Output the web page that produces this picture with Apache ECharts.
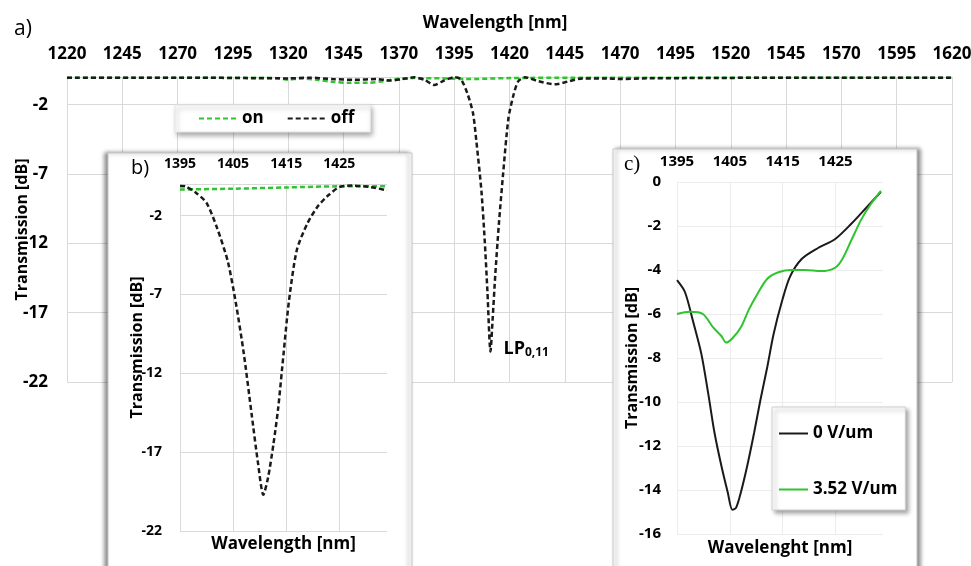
<!DOCTYPE html>
<html>
<head>
<meta charset="utf-8">
<script src="https://cdn.jsdelivr.net/npm/echarts@6/dist/echarts.min.js"></script>
<style>
html,body{margin:0;padding:0;background:#fff;}
#chart{width:971px;height:566px;}
</style>
</head>
<body>
<div id="chart"></div>
<script>
// ---- Panel a) full spectrum ----
var wlA_on = [1220,1280,1310,1316,1320,1325,1333,1340,1348,1356,1363,1369,1375,1390,1400,1420,1450,1500,1620];
var tA_on  = [-0.05,-0.05,-0.06,-0.1,-0.2,-0.1,-0.2,-0.35,-0.42,-0.42,-0.3,-0.15,-0.08,-0.1,-0.15,-0.08,-0.05,-0.05,-0.05];
var wlA_off = [1220,1250,1280,1300,1320,1330,1340,1350,1360,1366,1371,1377,1381.5,1386,1390.5,1395,1398,1401,1403.5,1405,1407.3,1408.8,1410,1411.4,1412.4,1413.6,1415.2,1417.1,1419.5,1421.8,1424,1427,1433,1440.5,1447,1453,1462,1471,1480,1500,1550,1620];
var tA_off  = [-0.05,-0.05,-0.05,-0.08,-0.1,-0.05,-0.15,-0.2,-0.15,-0.25,-0.17,-0.02,-0.2,-0.58,-0.25,-0.02,-0.15,-1.2,-2.6,-4.6,-8.2,-11.8,-15.4,-19.8,-17.4,-14.2,-10.6,-7.0,-3.0,-1.3,-0.3,-0.02,-0.3,-0.53,-0.3,-0.1,-0.1,-0.15,-0.1,-0.08,-0.05,-0.05];
var lpPoint = [1411.4, -19.8];

// ---- Panel b) zoom on the resonance ----
var wlB_on = [1395,1405,1415,1425,1434];
var tB_on  = [-0.35,-0.3,-0.22,-0.15,-0.15];
var wlB_off = [1395,1396,1398,1400,1402,1404,1405.5,1407,1408.5,1409.7,1410.7,1411.6,1412.6,1413.5,1414.5,1415.5,1417,1419,1421,1423,1425,1427.5,1431,1434];
var tB_off  = [-0.12,-0.15,-0.55,-1.2,-2.8,-4.9,-7.5,-10.7,-14.6,-17.7,-19.7,-18.6,-16.5,-14.2,-10.8,-7.5,-4.2,-2.5,-1.4,-0.7,-0.2,-0.1,-0.2,-0.4];

// ---- Panel c) measured ----
var wlC_0 = [1395,1396.5,1398,1399.6,1400.9,1402.1,1403.4,1404.6,1405.5,1406.2,1407.1,1408.3,1409.6,1410.8,1412.1,1413.3,1414.9,1416.4,1418.6,1421.7,1424.9,1428,1431.1,1433.6];
var tC_0  = [-4.46,-5.0,-6.3,-7.8,-9.6,-11.4,-12.9,-14.1,-14.9,-14.8,-14.1,-12.9,-11.4,-9.9,-8.4,-6.9,-5.4,-4.3,-3.5,-3.0,-2.6,-1.9,-1.1,-0.45];
var wlC_352 = [1395,1397.4,1399.9,1401.8,1403.4,1404.3,1405.5,1407.1,1408.6,1410.2,1412.1,1414.2,1416.7,1419.2,1422.3,1424.9,1426.2,1428,1429.9,1431.7,1433.6];
var tC_352  = [-6.0,-5.9,-6.0,-6.6,-7.0,-7.3,-7.1,-6.6,-5.8,-5.1,-4.4,-4.1,-4.0,-4.0,-4.05,-3.9,-3.55,-2.65,-1.7,-1.0,-0.4];

var namesA = ['on','off'];
var namesC = ['0 V/um','3.52 V/um'];

function zip(x, y){ return x.map(function(v,i){ return [v, y[i]]; }); }
function plain(v){ return String(v); }

var FONT = 'Open Sans';
var GREEN = '#2ec42e';
var BLACK = '#1a1a1a';
var GRID = '#d9d9d9';

var chart = echarts.init(document.getElementById('chart'), null, {renderer:'canvas'});

function lbl(size){ return {fontFamily:FONT, fontWeight:'bold', fontSize:size, color:'#000'}; }

var option = {
  animation:false,
  backgroundColor:'#fff',
  grid:[
    {left:67, top:77, width:885, height:305, containLabel:false, outerBoundsMode:'none'},
    {left:180, top:184, width:207, height:347, containLabel:false, outerBoundsMode:'none'},
    {left:677, top:182, width:206, height:352, containLabel:false, outerBoundsMode:'none'}
  ],
  graphic:[
    {type:'rect', z:5, shape:{x:108,y:153,width:304,height:430},
     style:{fill:'#fff', stroke:'#c8c8c8', lineWidth:1, shadowBlur:4, shadowOffsetX:-3, shadowOffsetY:0, shadowColor:'rgba(0,0,0,0.45)'}},
    {type:'rect', z:5, shape:{x:613,y:149,width:304,height:430},
     style:{fill:'#fff', stroke:'#c8c8c8', lineWidth:1, shadowBlur:4, shadowOffsetX:3, shadowOffsetY:0, shadowColor:'rgba(0,0,0,0.45)'}},
    {type:'text', z:9, x:14, y:19, style:{text:'a)', font:'21px "Open Sans"', fill:'#000'}},
    {type:'text', z:9, x:131, y:158, style:{text:'b)', font:'20px "Open Sans"', fill:'#000'}},
    {type:'text', z:9, x:624, y:154, style:{text:'c)', font:'21px "Liberation Serif"', fill:'#000'}}
  ],
  legend:[
    {data:namesA, left:175, top:105, orient:'horizontal', padding:[5,16,5,23], itemWidth:38, itemHeight:14, itemGap:23,
     itemStyle:{opacity:0},
     textStyle:lbl(17), backgroundColor:'#fff', borderColor:'#e6e6e6', borderWidth:1,
     shadowBlur:5, shadowOffsetX:2, shadowOffsetY:3, shadowColor:'rgba(0,0,0,0.35)', z:8, selectedMode:false},
    {data:namesC, left:772, top:407, orient:'vertical', padding:[18,8,12,6], itemWidth:29, itemHeight:14, itemGap:39,
     itemStyle:{opacity:0},
     textStyle:lbl(17), backgroundColor:'#fff', borderColor:'#cfcfcf', borderWidth:1,
     shadowBlur:4, shadowOffsetX:3, shadowOffsetY:3, shadowColor:'rgba(0,0,0,0.35)', z:8, selectedMode:false}
  ],
  xAxis:[
    {gridIndex:0, type:'value', position:'top', min:1220, max:1620, interval:25,
     name:'Wavelength [nm]', nameLocation:'middle', nameGap:45, nameMoveOverlap:false,
     nameTextStyle:Object.assign(lbl(17), {padding:[0,29,0,0]}),
     axisLine:{show:true, lineStyle:{color:GRID}}, axisTick:{show:false},
     axisLabel:Object.assign(lbl(17), {margin:14, hideOverlap:false, formatter:plain}),
     splitLine:{show:true, lineStyle:{color:GRID, width:1}}, z:0},
    {gridIndex:1, type:'value', position:'top', min:1395, max:1434, interval:10,
     axisLine:{show:false}, axisTick:{show:false},
     axisLabel:Object.assign(lbl(14), {margin:13, showMaxLabel:false, hideOverlap:false, formatter:plain}),
     splitLine:{show:true, showMaxLine:false, lineStyle:{color:GRID, width:1}}, z:6},
    {gridIndex:1, type:'value', position:'bottom', min:1395, max:1434,
     name:'Wavelength [nm]', nameLocation:'middle', nameGap:5, nameMoveOverlap:false, nameTextStyle:lbl(17),
     axisLine:{show:false}, axisTick:{show:false}, axisLabel:{show:false}, splitLine:{show:false}, z:6},
    {gridIndex:2, type:'value', position:'top', min:1395, max:1434, interval:10,
     axisLine:{show:false}, axisTick:{show:false},
     axisLabel:Object.assign(lbl(15), {margin:13, showMaxLabel:false, hideOverlap:false, formatter:plain}),
     splitLine:{show:true, showMaxLine:false, lineStyle:{color:'#ececec', width:1}}, z:6},
    {gridIndex:2, type:'value', position:'bottom', min:1395, max:1434,
     name:'Wavelenght [nm]', nameLocation:'middle', nameGap:6, nameMoveOverlap:false, nameTextStyle:lbl(17),
     axisLine:{show:false}, axisTick:{show:false}, axisLabel:{show:false}, splitLine:{show:false}, z:6}
  ],
  yAxis:[
    {gridIndex:0, type:'value', min:-22, max:0, interval:5,
     name:'Transmission [dB]', nameLocation:'middle', nameGap:37, nameRotate:90, nameMoveOverlap:false, nameTextStyle:lbl(16),
     axisLine:{show:false}, axisTick:{show:false},
     axisLabel:Object.assign(lbl(17), {margin:19, showMaxLabel:false, hideOverlap:false, formatter:plain}),
     splitLine:{show:true, lineStyle:{color:GRID, width:1}}, z:0},
    {gridIndex:1, type:'value', min:-22, max:0, interval:5,
     name:'Transmission [dB]', nameLocation:'middle', nameGap:35, nameRotate:90, nameMoveOverlap:false,
     nameTextStyle:Object.assign(lbl(16), {padding:[0,0,0,20]}),
     axisLine:{show:false}, axisTick:{show:false},
     axisLabel:Object.assign(lbl(14), {margin:18, showMaxLabel:false, hideOverlap:false, formatter:plain}),
     splitLine:{show:true, lineStyle:{color:GRID, width:1}}, z:6},
    {gridIndex:2, type:'value', min:-16, max:0, interval:2,
     name:'Transmission [dB]', nameLocation:'middle', nameGap:37, nameRotate:90, nameMoveOverlap:false, nameTextStyle:lbl(16),
     axisLine:{show:false}, axisTick:{show:false},
     axisLabel:Object.assign(lbl(15), {margin:16, hideOverlap:false, formatter:plain}),
     splitLine:{show:true, lineStyle:{color:'#ececec', width:1}}, z:6}
  ],
  series:[
    {name:'on', type:'line', xAxisIndex:0, yAxisIndex:0, data:zip(wlA_on, tA_on), symbol:'none', smooth:0.3,
     lineStyle:{color:GREEN, width:2.5, type:[5,3]}, itemStyle:{color:GREEN}, z:2, silent:true},
    {name:'off', type:'line', xAxisIndex:0, yAxisIndex:0, data:zip(wlA_off, tA_off), symbol:'none', smooth:0.25,
     lineStyle:{color:BLACK, width:2.5, type:[5,3]}, itemStyle:{color:BLACK}, z:3, silent:true,
     markPoint:{symbol:'circle', symbolSize:2, itemStyle:{color:'rgba(0,0,0,0)'}, silent:true,
       data:[{coord:lpPoint}],
       label:{show:true, position:'right', distance:12, offset:[0,-3],
         formatter:'{m|LP}{s|0,11}',
         rich:{m:{fontFamily:FONT, fontWeight:'bold', fontSize:18, color:'#000'},
               s:{fontFamily:FONT, fontWeight:'bold', fontSize:12, color:'#000', padding:[9,0,0,0]}}}}},
    {name:'on', type:'line', xAxisIndex:1, yAxisIndex:1, data:zip(wlB_on, tB_on), symbol:'none', smooth:0.3,
     lineStyle:{color:GREEN, width:2.5, type:[5,3]}, itemStyle:{color:GREEN}, z:7, silent:true},
    {name:'off', type:'line', xAxisIndex:1, yAxisIndex:1, data:zip(wlB_off, tB_off), symbol:'none', smooth:0.25,
     lineStyle:{color:BLACK, width:2.5, type:[5,3]}, itemStyle:{color:BLACK}, z:7, silent:true},
    {name:'0 V/um', type:'line', xAxisIndex:3, yAxisIndex:2, data:zip(wlC_0, tC_0), symbol:'none', smooth:0.3,
     lineStyle:{color:BLACK, width:2}, itemStyle:{color:BLACK}, z:7, silent:true},
    {name:'3.52 V/um', type:'line', xAxisIndex:3, yAxisIndex:2, data:zip(wlC_352, tC_352), symbol:'none', smooth:0.3,
     lineStyle:{color:GREEN, width:2}, itemStyle:{color:GREEN}, z:7, silent:true}
  ]
};
chart.setOption(option);
</script>
</body>
</html>
